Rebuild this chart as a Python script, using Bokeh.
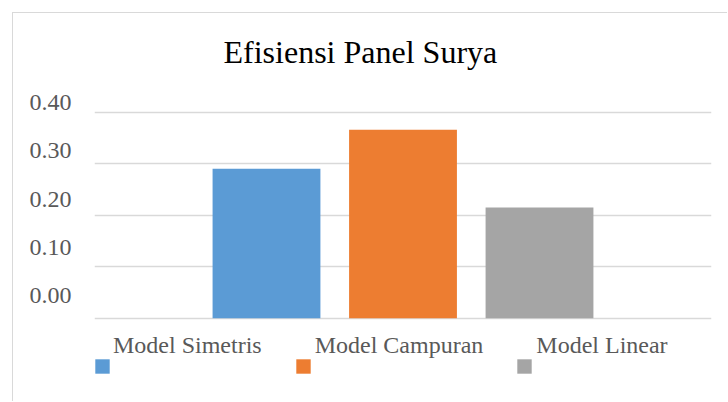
from bokeh.plotting import figure
from bokeh.models import (Range1d, LinearAxis, FixedTicker, Legend, LegendItem,
                          ColumnDataSource, Title, PrintfTickFormatter)
from bokeh.embed import file_html
from bokeh.resources import INLINE

title_text = "Efisiensi Panel Surya"
models = ["Model Simetris", "Model Campuran", "Model Linear"]
efficiency = [0.29, 0.366, 0.215]
colors = ["#5B9BD5", "#ED7D31", "#A5A5A5"]
y_ticks = [0.0, 0.1, 0.2, 0.3, 0.4]

FONT = "Liberation Serif"
W, H = 715, 389

p = figure(width=W, height=H, output_backend="svg", toolbar_location=None,
           x_range=Range1d(-1.26, 3.26), y_range=Range1d(-0.15981, 0.45184),
           min_border_left=81, min_border_right=17, min_border_top=72, min_border_bottom=2,
           background_fill_color="white", border_fill_color="white")
p.margin = (13, 0, 0, 13)
p.styles = {"box-shadow": "-1px -1px 0 0 #d9d9d9"}
p.outline_line_color = None
p.xaxis.visible = False
p.yaxis.visible = False
p.xgrid.visible = False
p.ygrid.ticker = FixedTicker(ticks=y_ticks)
p.ygrid.grid_line_color = "#d9d9d9"
p.ygrid.grid_line_width = 1.5

p.title = Title(text=title_text, align="left", offset=129, standoff=32,
                text_font=FONT, text_font_size="32px", text_font_style="normal",
                text_color="black")

# tick-label axis
p.extra_y_ranges = {"lab": Range1d(-0.21602, 0.43514)}
lab_axis = LinearAxis(y_range_name="lab", ticker=FixedTicker(ticks=y_ticks),
                      formatter=PrintfTickFormatter(format="%.2f"))
lab_axis.major_tick_in = 0
lab_axis.major_tick_out = 0
lab_axis.minor_tick_in = 0
lab_axis.minor_tick_out = 0
lab_axis.axis_line_color = None
lab_axis.major_label_standoff = 23
lab_axis.major_label_text_font = FONT
lab_axis.major_label_text_font_size = "24px"
lab_axis.major_label_text_color = "#595959"
p.add_layout(lab_axis, "left")

src = ColumnDataSource(dict(x=list(range(len(models))), top=efficiency,
                            color=colors, model=models))
bars = p.vbar(x="x", top="top", bottom=0, width=0.79, fill_color="color",
              line_color=None, source=src)

common = dict(orientation="horizontal", spacing=35, padding=0, margin=0,
              border_line_color=None, background_fill_alpha=0, label_height=30,
              label_text_font=FONT)

# legend text row (names) sits above the row of colour swatches, as in the original
leg_tx = Legend(items=[LegendItem(label=m, renderers=[bars], index=i) for i, m in enumerate(models)],
                location=(1, 39.3), glyph_width=0, glyph_height=14, label_standoff=18,
                label_text_color="#595959", label_text_font_size="24px", **common)

# swatch row: blank (no-break space) labels whose widths keep swatches under their names
pad_px = [148, 168, 10]
blank = ["\u00a0" * (w // 2) for w in pad_px]   # 2 px per no-break space at 8px
leg_sq = Legend(items=[LegendItem(label=blank[i], renderers=[bars], index=i) for i in range(len(models))],
                location=(-1, 19), glyph_width=18, glyph_height=18, label_standoff=0,
                label_text_alpha=0, label_text_font_size="8px", **common)
p.add_layout(leg_tx)
p.add_layout(leg_sq)

open("out.html", "w").write(file_html(p, INLINE))
